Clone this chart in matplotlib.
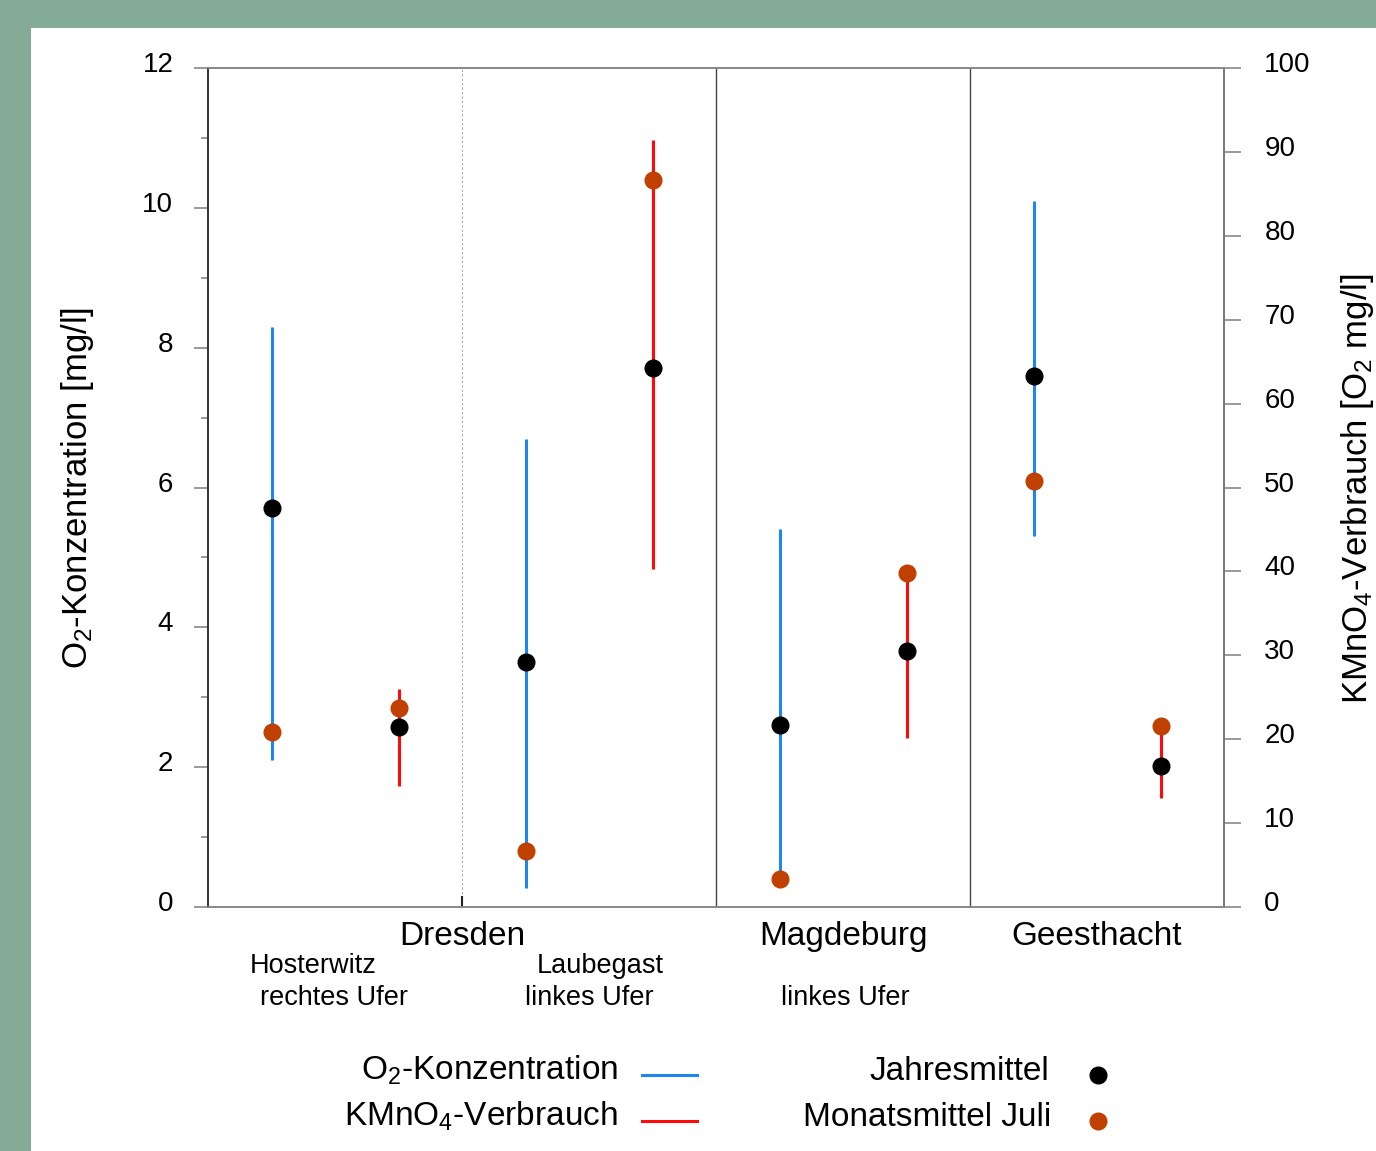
import matplotlib.pyplot as plt
import matplotlib.transforms as mtransforms
from matplotlib.lines import Line2D
from matplotlib.patches import Rectangle

# O2 concentration, left axis [mg/l]
o2_x = [0.5, 2.5, 4.5, 6.5]
o2_min = [2.1, 0.27, 0.4, 5.3]
o2_max = [8.3, 6.7, 5.4, 10.1]
o2_year = [5.7, 3.5, 2.6, 7.6]
o2_july = [2.5, 0.8, 0.4, 6.1]

# KMnO4 consumption, right axis [O2 mg/l]
km_x = [1.5, 3.5, 5.5, 7.5]
km_min = [14.4, 40.3, 20.1, 13.0]
km_max = [26.0, 91.4, 39.8, 21.5]
km_year = [21.5, 64.2, 30.5, 16.8]
km_july = [23.7, 86.6, 39.8, 21.6]

cities = ['Dresden', 'Magdeburg', 'Geesthacht']
city_x = [2, 5, 7]
sites = ['Hosterwitz', 'rechtes Ufer', 'Laubegast', 'linkes Ufer', 'linkes Ufer']
site_x = [0.83, 0.99, 3.09, 3.0, 5.02]
site_row = [0, 1, 0, 1, 1]

BLUE = '#1E86F0'
RED = '#FF0A0A'
ORANGE = '#C04000'
GREEN = '#84AB97'

plt.rcParams['font.family'] = ['Liberation Sans', 'DejaVu Sans']
plt.rcParams['mathtext.fontset'] = 'custom'
plt.rcParams['mathtext.rm'] = 'Liberation Sans'
plt.rcParams['mathtext.default'] = 'regular'

fig = plt.figure(figsize=(13.76, 11.51), dpi=100, facecolor=GREEN)
fig.patches.append(Rectangle((31 / 1376, 0), 1, 1 - 28 / 1151,
                             transform=fig.transFigure, facecolor='white',
                             edgecolor='none', zorder=-10))

ax = fig.add_axes([208 / 1376, 1 - 907 / 1151, 1016 / 1376, 839 / 1151])
ax.set_facecolor('white')
ax2 = ax.twinx()

ax.set_xlim(0, 8)
ax.set_ylim(0, 12)
ax2.set_ylim(0, 100)

# separators
ax.axvline(2, color='#aaaaaa', lw=0.8, ls=(0, (2, 2)), zorder=1)
ax.axvline(4, color='#444444', lw=1.0, zorder=1)
ax.axvline(6, color='#444444', lw=1.0, zorder=1)

# O2 ranges and means
ax.vlines(o2_x, o2_min, o2_max, color=BLUE, lw=2.2, zorder=2)
ax.plot(o2_x, o2_july, 'o', color=ORANGE, ms=12, zorder=3)
ax.plot(o2_x, o2_year, 'o', color='black', ms=12, zorder=4)

# KMnO4 ranges and means
ax2.vlines(km_x, km_min, km_max, color=RED, lw=2.2, zorder=2)
ax2.plot(km_x, km_july, 'o', color=ORANGE, ms=12, zorder=3)
ax2.plot(km_x, km_year, 'o', color='black', ms=12, zorder=4)

# spines and ticks
for a in (ax, ax2):
    a.spines['top'].set_color('#888888')
    a.spines['bottom'].set_color('#888888')
    a.spines['right'].set_color('#777777')
    a.spines['left'].set_color('#333333')
    for s in a.spines.values():
        s.set_linewidth(1.2)

ax.set_yticks(range(0, 13, 2))
ax.set_yticks(range(1, 12, 2), minor=True)
ax.tick_params(axis='y', which='major', direction='out', length=10, width=1.2,
               color='#888888', labelsize=20, pad=15)
ax.tick_params(axis='y', which='minor', direction='out', length=5, width=1.2,
               color='#888888')
ax.set_xticks([2])
ax.set_xticklabels([])
ax.tick_params(axis='x', direction='in', length=8, width=1.5, color='#222222')

ax2.set_yticks(range(0, 101, 10))
ax2.tick_params(axis='y', direction='out', length=12, width=1.2,
                color='#888888', labelsize=20, pad=17)

# tick labels sit a little above their ticks in the original
lift = mtransforms.ScaledTranslation(0, 0.06, fig.dpi_scale_trans)
for lab in ax.get_yticklabels() + ax2.get_yticklabels():
    lab.set_transform(lab.get_transform() + lift)

ax.set_ylabel(r'O$_2$-Konzentration [mg/l]', fontsize=25, labelpad=33)
fig.text(1358 / 1376, 1 - 489 / 1151, r'KMnO$_4$-Verbrauch [O$_2$ mg/l]',
         rotation=90, fontsize=25, ha='center', va='center')

# category labels under the axis
trans = mtransforms.blended_transform_factory(ax.transData, ax.transAxes)
for name, x in zip(cities, city_x):
    ax.text(x, -0.0453, name, transform=trans, ha='center', va='baseline',
            fontsize=24)
row_y = [-0.0787, -0.1168]
for name, x, r in zip(sites, site_x, site_row):
    ax.text(x, row_y[r], name, transform=trans, ha='center', va='baseline',
            fontsize=19.5)

# legend drawn by hand
fy = lambda py: 1 - py / 1151
fx = lambda px: px / 1376
fig.text(fx(618), fy(1080), r'O$_2$-Konzentration', ha='right', va='baseline', fontsize=24)
fig.text(fx(618), fy(1126), r'KMnO$_4$-Verbrauch', ha='right', va='baseline', fontsize=24)
fig.text(fx(1049), fy(1080), 'Jahresmittel', ha='right', va='baseline', fontsize=24)
fig.text(fx(1051), fy(1126), 'Monatsmittel Juli', ha='right', va='baseline', fontsize=24)
fig.add_artist(Line2D([fx(642), fx(697)], [fy(1075), fy(1075)], color=BLUE, lw=2.2))
fig.add_artist(Line2D([fx(642), fx(697)], [fy(1121), fy(1121)], color=RED, lw=2.2))
fig.add_artist(Line2D([fx(1098)], [fy(1075)], marker='o', color='black', ms=12, ls='none'))
fig.add_artist(Line2D([fx(1098)], [fy(1121)], marker='o', color=ORANGE, ms=12, ls='none'))

fig.savefig('out.png', dpi=100, facecolor=GREEN)
